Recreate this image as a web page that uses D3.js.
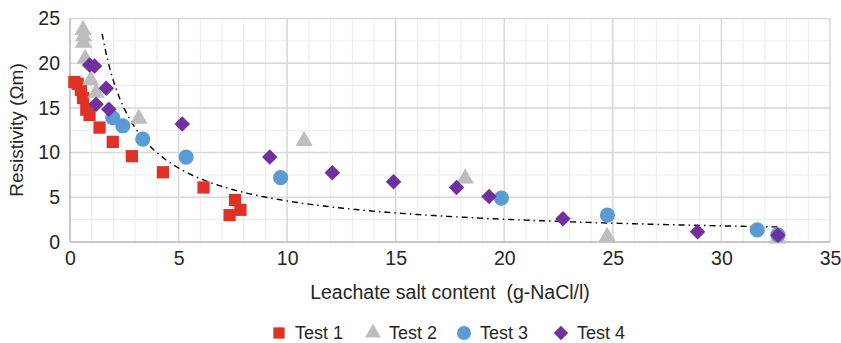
<!DOCTYPE html>
<html><head><meta charset="utf-8">
<script src="https://cdn.jsdelivr.net/npm/d3@7/dist/d3.min.js"></script>
<style>body{margin:0;background:#fff}svg{display:block}text{font-family:"Liberation Sans",Arial,sans-serif;fill:#262626}</style>
</head><body><svg id="c" width="841" height="343"></svg>
<script>
const xTicks=[0,5,10,15,20,25,30,35];
const yTicks=[0,5,10,15,20,25];
const seriesNames=["Test 1","Test 2","Test 3","Test 4"];
const test1=[[0.2,17.9],[0.35,17.7],[0.5,17.0],[0.6,16.1],[0.75,14.8],[0.9,14.2],[1.36,12.8],[1.97,11.2],[2.85,9.6],[4.28,7.8],[6.15,6.1],[7.6,4.7],[7.35,3.0],[7.85,3.6]];
const test2=[[0.6,23.7],[0.62,23.0],[0.62,22.3],[0.7,20.5],[0.95,18.1],[1.2,16.7],[3.17,13.8],[10.78,11.3],[18.2,7.1],[24.74,0.6],[32.6,0.4]];
const test3=[[1.97,13.9],[2.43,13.0],[3.35,11.5],[5.35,9.5],[9.7,7.2],[19.87,4.9],[24.75,3.0],[31.65,1.35],[32.6,0.8]];
const test4=[[0.9,19.8],[1.13,19.7],[1.67,17.2],[1.2,15.4],[1.79,14.85],[5.17,13.2],[9.2,9.5],[12.08,7.75],[14.9,6.75],[17.8,6.1],[19.3,5.1],[22.7,2.6],[28.9,1.15],[32.6,0.75]];
const trendA=32.5, trendB=-0.85, trendX=[1.48,32.6];

const svg=d3.select("#c");
const x=d3.scaleLinear().domain([0,35]).range([70,830]);
const y=d3.scaleLinear().domain([0,25]).range([242,18.5]);
const colors=["#E03127","#BDBDBD","#5B9BD5","#7030A0"];

svg.append("g").selectAll("line").data(d3.range(0,35.01,1)).join("line")
 .attr("x1",d=>x(d)).attr("x2",d=>x(d)).attr("y1",y(0)).attr("y2",y(25)).attr("stroke","#ececec").attr("stroke-width",1);
svg.append("g").selectAll("line").data(d3.range(0,25.01,2.5)).join("line")
 .attr("y1",d=>y(d)).attr("y2",d=>y(d)).attr("x1",x(0)).attr("x2",x(35)).attr("stroke","#ececec").attr("stroke-width",1);
svg.append("g").selectAll("line").data(xTicks).join("line")
 .attr("x1",d=>x(d)).attr("x2",d=>x(d)).attr("y1",y(0)).attr("y2",y(25)).attr("stroke","#d9d9d9").attr("stroke-width",1.5);
svg.append("g").selectAll("line").data(yTicks).join("line")
 .attr("y1",d=>y(d)).attr("y2",d=>y(d)).attr("x1",x(0)).attr("x2",x(35)).attr("stroke","#d9d9d9").attr("stroke-width",1.5);
svg.append("line").attr("x1",x(0)).attr("x2",x(0)).attr("y1",y(0)).attr("y2",y(25)).attr("stroke","#bfbfbf").attr("stroke-width",1.5);
svg.append("line").attr("x1",x(0)).attr("x2",x(35)).attr("y1",y(0)).attr("y2",y(0)).attr("stroke","#bfbfbf").attr("stroke-width",1.5);

const xa=svg.append("g").attr("transform",`translate(0,${y(0)})`).call(d3.axisBottom(x).tickValues(xTicks).tickSize(0).tickPadding(9));
const ya=svg.append("g").attr("transform",`translate(${x(0)},0)`).call(d3.axisLeft(y).tickValues(yTicks).tickSize(0).tickPadding(10));
[xa,ya].forEach(a=>{a.select(".domain").remove();a.selectAll("text").attr("font-size",19.5).attr("fill","#262626").attr("font-family","Liberation Sans, Arial, sans-serif");});

svg.append("text").attr("x",450).attr("y",299).attr("text-anchor","middle").attr("font-size",19.5)
 .attr("xml:space","preserve").style("white-space","pre").text("Leachate salt content  (g-NaCl/l)");
svg.append("text").attr("transform","translate(23,130) rotate(-90)").attr("text-anchor","middle").attr("font-size",19).text("Resistivity (Ωm)");

const tx=d3.range(trendX[0],trendX[1]+0.001,0.1);
svg.append("path").datum(tx).attr("fill","none").attr("stroke","#000").attr("stroke-width",1.4)
 .attr("stroke-dasharray","6,4,1.5,4")
 .attr("d",d3.line().x(d=>x(d)).y(d=>y(trendA*Math.pow(d,trendB))));

const shapes=[d3.symbolSquare,d3.symbolTriangle,d3.symbolCircle,d3.symbolSquare];
const sizes=[150,130,180,120];
const rot=[0,0,0,45];
const all=[test1,test2,test3,test4];
all.forEach((data,i)=>{
  svg.append("g").selectAll("path").data(data).join("path")
   .attr("transform",d=>`translate(${x(d[0])},${y(d[1])}) rotate(${rot[i]})`)
   .attr("d",d3.symbol(shapes[i],sizes[i])).attr("fill",colors[i]);
});

const lx=[279,373,464,561];
seriesNames.forEach((n,i)=>{
  svg.append("path").attr("transform",`translate(${lx[i]},${333}) rotate(${rot[i]})`).attr("d",d3.symbol(shapes[i],sizes[i]*0.85)).attr("fill",colors[i]);
  svg.append("text").attr("x",lx[i]+16).attr("y",339).attr("font-size",18).text(n);
});
</script></body></html>
